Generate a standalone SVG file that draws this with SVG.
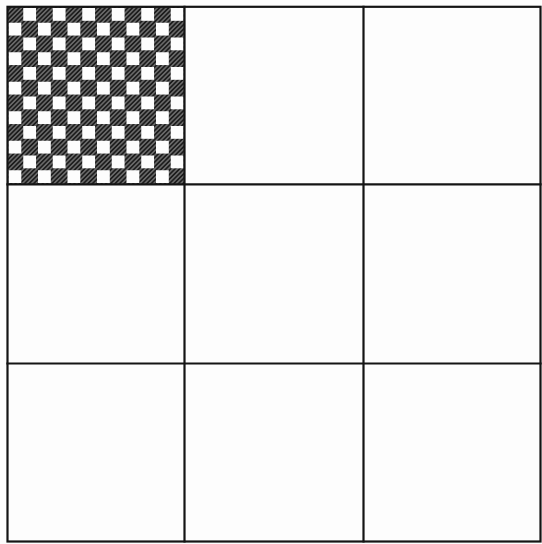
<svg xmlns="http://www.w3.org/2000/svg" width="542" height="544" viewBox="0 0 542 544">
  <defs>
    <pattern id="hatch" patternUnits="userSpaceOnUse" width="3.2" height="3.2" patternTransform="rotate(45)">
      <rect width="3.2" height="3.2" fill="#1c1c1c"/>
      <line x1="1.6" y1="0" x2="1.6" y2="3.2" stroke="#8a8a8a" stroke-width="1.1"/>
    </pattern>
    <rect id="w" width="12.8" height="12.8" fill="#fdfdfd"/>
    <g id="pair">
      <use href="#w" x="23.25" y="0"/><use href="#w" x="52.75" y="0"/><use href="#w" x="82.25" y="0"/>
      <use href="#w" x="111.75" y="0"/><use href="#w" x="141.25" y="0"/><use href="#w" x="170.75" y="0"/>
      <use href="#w" x="8.5" y="14.75"/><use href="#w" x="38" y="14.75"/><use href="#w" x="67.5" y="14.75"/>
      <use href="#w" x="97" y="14.75"/><use href="#w" x="126.5" y="14.75"/><use href="#w" x="156" y="14.75"/>
    </g>
    <style>
      .ln { stroke: #141414; stroke-width: 2.2; fill: none; stroke-linecap: square; }
    </style>
  </defs>
  <rect width="542" height="544" fill="#fdfdfd"/>
  <g id="board">
    <rect x="7.5" y="7" width="177" height="177" fill="url(#hatch)"/>
    <use href="#pair" y="8"/>
    <use href="#pair" y="37.5"/>
    <use href="#pair" y="67"/>
    <use href="#pair" y="96.5"/>
    <use href="#pair" y="126"/>
    <use href="#pair" y="155.5"/>
  </g>
  <g id="grid">
    <rect class="ln" x="7.5" y="6.8" width="533" height="534.7"/>
    <line class="ln" x1="184.5" y1="6.8" x2="184.5" y2="541.5"/>
    <line class="ln" x1="363.5" y1="6.8" x2="363.5" y2="541.5"/>
    <line class="ln" x1="7.5" y1="184.3" x2="540.5" y2="184.3"/>
    <line class="ln" x1="7.5" y1="363.5" x2="540.5" y2="363.5"/>
  </g>
</svg>
